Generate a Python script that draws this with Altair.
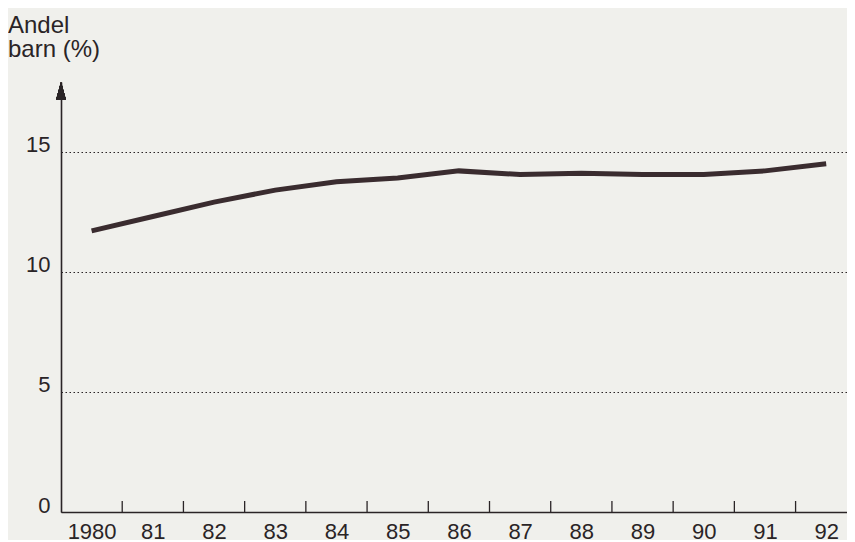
import altair as alt
import pandas as pd

# ---- data ----
years = [1980, 1981, 1982, 1983, 1984, 1985, 1986, 1987, 1988, 1989, 1990, 1991, 1992]
share = [11.7, 12.3, 12.9, 13.4, 13.75, 13.9, 14.2, 14.05, 14.1, 14.05, 14.05, 14.2, 14.5]
year_labels = ["1980", "81", "82", "83", "84", "85", "86", "87", "88", "89", "90", "91", "92"]
y_ticks = [0, 5, 10, 15]
title_lines = ["Andel", "barn (%)"]

X_MIN = 1979.5
X_MAX = 1992.34
Y_TOP = 17.9

INK = "#2a2426"
LINE = "#3a2c2f"
FONT = "Liberation Sans"

df = pd.DataFrame({"year": years, "share": share})
bounds = pd.DataFrame({"b": [y + 0.5 for y in years[:-1]]})

label_expr = "[" + ",".join(f"'{s}'" for s in year_labels) + "][datum.value - 1980]"

xscale = alt.Scale(domain=[X_MIN, X_MAX], nice=False, zero=False)
yscale = alt.Scale(domain=[0, Y_TOP], nice=False, zero=True)

x_axis = alt.Axis(values=years, labelExpr=label_expr, ticks=False, tickSize=0,
                  grid=False, domainColor=INK, domainWidth=1.6,
                  labelFont=FONT, labelFontSize=22, labelColor=INK,
                  labelPadding=9, labelBaseline="top", labelFlush=False,
                  labelOverlap=False, title=None)

line = alt.Chart(df).mark_line(color=LINE, strokeWidth=5, strokeCap="butt").encode(
    x=alt.X("year:Q", scale=xscale, axis=x_axis),
    y=alt.Y("share:Q", scale=yscale,
            axis=alt.Axis(values=y_ticks, grid=True, gridDash=[1.5, 2.5], gridColor=INK,
                          gridWidth=1.2, gridOpacity=1, ticks=False, tickSize=0,
                          domainColor=INK, domainWidth=1.6,
                          labelFont=FONT, labelFontSize=22, labelColor=INK,
                          labelPadding=11, labelBaseline="alphabetic", title=None)),
)

ticks = alt.Chart(bounds).mark_tick(orient="vertical", size=11, thickness=1.3,
                                    yOffset=-5.5, color=INK, opacity=1).encode(
    x=alt.X("b:Q", scale=xscale, axis=x_axis),
    y=alt.datum(0, scale=yscale),
)

arrow = alt.Chart(df).mark_point(shape="M0,0L0.55,2L-0.55,2Z", size=324, filled=True,
                                 color=INK, opacity=1, strokeWidth=0).encode(
    x=alt.value(0),
    y=alt.datum(Y_TOP),
)

chart = alt.layer(line, ticks, arrow).properties(
    width=786,
    height=430,
    title=alt.Title(title_lines, anchor="start", dx=-53, offset=1, baseline="alphabetic",
                    fontSize=24, font=FONT, fontWeight="normal", color=INK,
                    lineHeight=24, frame="group"),
    autosize=alt.AutoSizeParams(type="none"),
    padding={"left": 53, "top": 74, "right": 0, "bottom": 28},
    background="#f0f0ec",
).configure_view(stroke=None)

chart.save("out.html", embed_options={"renderer": "svg", "actions": False})
